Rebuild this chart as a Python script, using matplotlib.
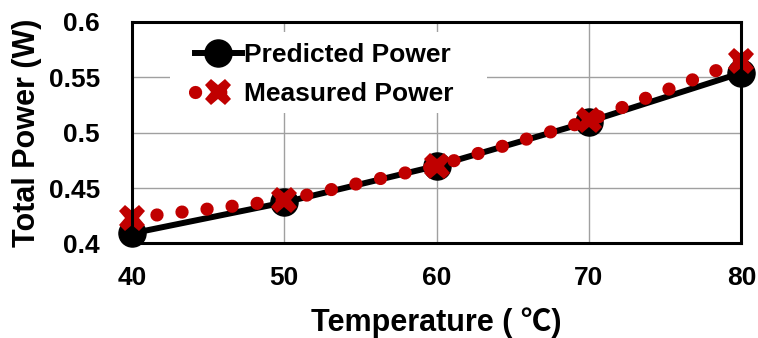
import matplotlib
matplotlib.use("Agg")
import matplotlib.pyplot as plt
from matplotlib.patches import Rectangle

plt.rcParams['font.family'] = ['Liberation Sans', 'DejaVu Sans']
plt.rcParams['font.weight'] = 'bold'

temperature = [40, 50, 60, 70, 80]
predicted_power = [0.409, 0.437, 0.470, 0.510, 0.554]
measured_power = [0.423, 0.439, 0.470, 0.511, 0.565]

x_ticks = [40, 50, 60, 70, 80]
y_ticks = [0.4, 0.45, 0.5, 0.55, 0.6]
y_tick_labels = ['0.4', '0.45', '0.5', '0.55', '0.6']

red = '#C00000'

fig = plt.figure(figsize=(7.58, 3.38), dpi=100)
ax = fig.add_axes([0.174, 0.280, 0.804, 0.655])

ax.plot(temperature, predicted_power, color='black', lw=4.3, marker='o',
        markersize=19.5, markerfacecolor='black', markeredgecolor='black',
        label='Predicted Power', zorder=3, clip_on=False)
ax.plot(temperature, measured_power, color=red, lw=9.5, linestyle=(0, (0.01, 1.9)),
        dash_capstyle='round', marker='X', markersize=19, markerfacecolor=red,
        markeredgecolor=red, markeredgewidth=0, label='Measured Power', zorder=4,
        clip_on=False)

ax.set_xlim(40, 80)
ax.set_ylim(0.4, 0.6)
ax.set_xticks(x_ticks)
ax.set_yticks(y_ticks)
ax.set_yticklabels(y_tick_labels)
ax.tick_params(axis='both', length=0, labelsize=19)
ax.tick_params(axis='x', pad=16)
ax.tick_params(axis='y', pad=23)
ax.grid(True, color='#A0A0A0', lw=1)
ax.set_axisbelow(True)
for s in ax.spines.values():
    s.set_color('black')
    s.set_linewidth(2.2)
    s.set_zorder(5)

ax.set_xlabel('Temperature ( ℃)', fontsize=22, fontweight='bold', labelpad=13,
              family=['Liberation Sans', 'Noto Sans CJK SC', 'DejaVu Sans'])
ax.set_ylabel('Total Power (W)', fontsize=22, fontweight='bold', labelpad=5)

# white panel behind the legend, hiding the grid there
ax.add_patch(Rectangle((0.062, 0.589), 0.521, 0.366, transform=ax.transAxes,
                       facecolor='white', edgecolor='none', zorder=1))

leg = ax.legend(loc='upper left', bbox_to_anchor=(0.103, 0.905), frameon=False,
                fontsize=19, handlelength=1.78, handletextpad=0.1, numpoints=1,
                labelspacing=0.58, borderpad=0.0, borderaxespad=0.0)
leg.set_zorder(6)

fig.savefig('out.png', dpi=100)
